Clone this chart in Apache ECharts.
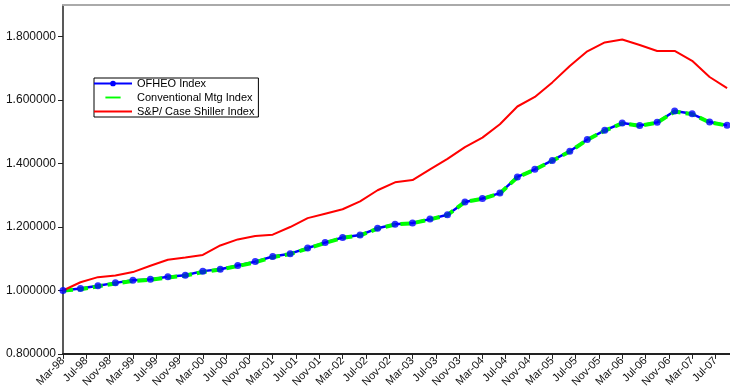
<!DOCTYPE html>
<html>
<head>
<meta charset="utf-8">
<script src="https://cdn.jsdelivr.net/npm/echarts@6/dist/echarts.min.js"></script>
<style>
  html, body { margin: 0; padding: 0; background: #fff; }
  #main { width: 730px; height: 390px; }
</style>
</head>
<body>
<div id="main"></div>
<script>
// quarterly observations, Mar-98 .. Sep-07 (month offset = 3 * index)
var ofheo = [1.000, 1.006, 1.015, 1.024, 1.032, 1.035, 1.043, 1.048, 1.061, 1.067,
  1.079, 1.091, 1.107, 1.116, 1.134, 1.151, 1.167, 1.175, 1.196, 1.209,
  1.213, 1.225, 1.239, 1.279, 1.290, 1.307, 1.358, 1.382, 1.410, 1.439,
  1.476, 1.505, 1.528, 1.520, 1.530, 1.566, 1.557, 1.531, 1.521];
var conventional = [1.000, 1.004, 1.013, 1.022, 1.030, 1.034, 1.041, 1.047, 1.058, 1.066,
  1.077, 1.089, 1.105, 1.115, 1.132, 1.150, 1.166, 1.174, 1.195, 1.208,
  1.212, 1.224, 1.238, 1.279, 1.289, 1.306, 1.357, 1.381, 1.409, 1.438,
  1.475, 1.504, 1.527, 1.519, 1.529, 1.564, 1.556, 1.530, 1.520];
var caseShiller = [1.000, 1.026, 1.042, 1.047, 1.058, 1.078, 1.097, 1.104, 1.112, 1.142,
  1.161, 1.172, 1.176, 1.200, 1.228, 1.242, 1.256, 1.281, 1.316, 1.341,
  1.348, 1.382, 1.415, 1.452, 1.482, 1.524, 1.580, 1.610, 1.656, 1.708,
  1.754, 1.782, 1.791, 1.774, 1.755, 1.755, 1.724, 1.673, 1.638];
// x tick labels, one every 4 months from Mar-98
var tickLabels = ['Mar-98', 'Jul-98', 'Nov-98', 'Mar-99', 'Jul-99', 'Nov-99', 'Mar-00', 'Jul-00',
  'Nov-00', 'Mar-01', 'Jul-01', 'Nov-01', 'Mar-02', 'Jul-02', 'Nov-02', 'Mar-03', 'Jul-03',
  'Nov-03', 'Mar-04', 'Jul-04', 'Nov-04', 'Mar-05', 'Jul-05', 'Nov-05', 'Mar-06', 'Jul-06',
  'Nov-06', 'Mar-07', 'Jul-07'];

function toPoints(arr) {
  return arr.map(function (v, i) { return [i * 3, v]; });
}

var myChart = echarts.init(document.getElementById('main'));
var font = 'Liberation Sans, Arial, sans-serif';

// legend icons: line with dot, short dash, plain line
var iconDotLine = 'path://M0,3 L40,3 L40,5 L0,5 Z M17,4 A3,3 0 1,1 23,4 A3,3 0 1,1 17,4 Z';
var iconDash = 'path://M0,2 M40,6 M12,3 L28,3 L28,5 L12,5 Z';
var iconLine = 'path://M0,2 M40,6 M0,3 L40,3 L40,5 L0,5 Z';

var option = {
  animation: false,
  backgroundColor: '#fff',
  grid: { left: 63, right: 0, top: 5, bottom: 36 },
  legend: {
    orient: 'vertical',
    left: 94,
    top: 78,
    itemWidth: 38,
    itemHeight: 9,
    itemGap: 3,
    padding: [0, 4, 0, 0],
    borderColor: '#000',
    borderWidth: 1,
    backgroundColor: '#fff',
    itemStyle: { borderWidth: 0 },
    textStyle: { fontFamily: font, fontSize: 11, color: '#000' },
    data: [
      { name: 'OFHEO Index', icon: iconDotLine },
      { name: 'Conventional Mtg Index', icon: iconDash },
      { name: 'S&P/ Case Shiller Index', icon: iconLine }
    ]
  },
  xAxis: [
    {
      type: 'value',
      min: 0,
      max: 114.5,
      interval: 4,
      splitLine: { show: false },
      axisLine: { lineStyle: { color: '#222', width: 2 } },
      axisTick: { length: 5, lineStyle: { color: '#222' } },
      axisLabel: {
        rotate: 45,
        margin: 5,
        showMaxLabel: false,
        fontFamily: font,
        fontSize: 11,
        color: '#111',
        formatter: function (v) { return tickLabels[Math.round(v / 4)] || ''; }
      }
    },
    {
      type: 'value',
      position: 'top',
      min: 0,
      max: 114.5,
      splitLine: { show: false },
      axisLine: { lineStyle: { color: '#aaa', width: 2 } },
      axisTick: { show: false },
      axisLabel: { show: false }
    }
  ],
  yAxis: {
    type: 'value',
    min: 0.8,
    max: 1.9,
    interval: 0.2,
    splitLine: { show: false },
    axisLine: { show: true, lineStyle: { color: '#222', width: 1.5 } },
    axisTick: { show: true, length: 5, lineStyle: { color: '#222' } },
    axisLabel: {
      showMaxLabel: false,
      margin: 7,
      fontFamily: font,
      fontSize: 12,
      color: '#111',
      formatter: function (v) { return v.toFixed(6); }
    }
  },
  series: [
    {
      name: 'OFHEO Index',
      type: 'line',
      data: toPoints(ofheo),
      symbol: 'circle',
      symbolSize: 7,
      showSymbol: false,
      itemStyle: { color: '#0000ff' },
      lineStyle: { color: '#0000ff', width: 2.5 },
      z: 2
    },
    {
      name: 'Conventional Mtg Index',
      type: 'line',
      data: toPoints(conventional),
      symbol: 'none',
      itemStyle: { color: '#00ff00' },
      lineStyle: { color: '#00ff00', width: 4, type: [10, 5] },
      z: 3
    },
    {
      name: 'S&P/ Case Shiller Index',
      type: 'line',
      data: toPoints(caseShiller),
      symbol: 'none',
      itemStyle: { color: '#ff0000' },
      lineStyle: { color: '#ff0000', width: 2 },
      z: 3
    },
    {
      // OFHEO markers drawn on top of the green dashes
      name: 'OFHEO Index',
      type: 'scatter',
      data: toPoints(ofheo),
      symbol: 'circle',
      symbolSize: 7,
      itemStyle: { color: '#0000ff' },
      z: 5
    }
  ]
};

myChart.setOption(option);
</script>
</body>
</html>
